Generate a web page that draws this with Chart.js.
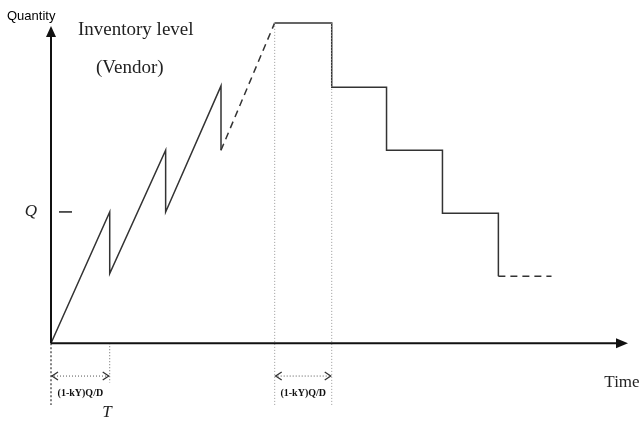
<!DOCTYPE html>
<html>
<head>
<meta charset="utf-8">
<script src="https://cdn.jsdelivr.net/npm/chart.js@4"></script>
<style>
  body { margin: 0; background: #fff; }
  canvas { display: block; }
</style>
</head>
<body>
<canvas id="inventoryChart" width="644" height="426"></canvas>
<script>
// time in cycles, quantity in units of Q
const sawX = [0, 1.05, 1.05, 2.05, 2.05, 3.04, 3.04];
const sawY = [0, 1.0, 0.53, 1.47, 1.0, 1.96, 1.47];
const rampX = [3.04, 4.0];
const rampY = [1.47, 2.44];
const stepX = [4.0, 5.02, 5.02, 6.0, 6.0, 7.0, 7.0, 8.0, 8.0];
const stepY = [2.44, 2.44, 1.95, 1.95, 1.47, 1.47, 0.99, 0.99, 0.51];
const tailX = [8.0, 8.95];
const tailY = [0.51, 0.51];
const qLevel = 1.0;
const spans = [[0, 1.05], [4.0, 5.02]];
const spanLabel = '(1-kY)Q/D';

const pts = (xs, ys) => xs.map((x, i) => ({ x: x, y: ys[i] }));

function lineSet(data, color, width, dash) {
    return {
        data: data,
        showLine: true,
        borderColor: color,
        borderWidth: width,
        borderDash: dash || [],
        pointRadius: 0,
        tension: 0,
        clip: false
    };
}

// Arrows and labels drawn on top of the scales
const decorations = {
    id: 'decorations',
    afterDatasetsDraw(chart) {
        const c = chart.ctx;
        const xs = chart.scales.x, ys = chart.scales.y;
        const x0 = xs.getPixelForValue(0), y0 = ys.getPixelForValue(0);
        c.save();
        // axes
        c.strokeStyle = '#111';
        c.fillStyle = '#111';
        c.lineWidth = 2;
        c.beginPath();
        c.moveTo(x0, y0); c.lineTo(x0, 34);
        c.moveTo(x0, y0); c.lineTo(617, y0);
        c.stroke();
        c.beginPath();
        c.moveTo(x0, 26); c.lineTo(x0 - 5, 37); c.lineTo(x0 + 5, 37); c.closePath();
        c.fill();
        c.beginPath();
        c.moveTo(628, y0); c.lineTo(616, y0 - 5); c.lineTo(616, y0 + 5); c.closePath();
        c.fill();

        // span arrowheads and labels
        const ay = ys.getPixelForValue(-0.25);
        c.lineWidth = 1.3;
        c.strokeStyle = '#333';
        spans.forEach(s => {
            const a = xs.getPixelForValue(s[0]) + 1, b = xs.getPixelForValue(s[1]) - 1;
            c.beginPath();
            c.moveTo(a + 6, ay - 4); c.lineTo(a, ay); c.lineTo(a + 6, ay + 4);
            c.moveTo(b - 6, ay - 4); c.lineTo(b, ay); c.lineTo(b - 6, ay + 4);
            c.stroke();
            c.font = 'bold 10px "Liberation Serif"';
            c.textAlign = 'center';
            c.textBaseline = 'middle';
            c.fillStyle = '#111';
            c.fillText(spanLabel, (a + b) / 2, ys.getPixelForValue(-0.38));
        });

        // Q tick
        const qy = ys.getPixelForValue(qLevel);
        c.strokeStyle = '#222';
        c.lineWidth = 1.5;
        c.beginPath();
        c.moveTo(59, qy); c.lineTo(72, qy);
        c.stroke();

        c.fillStyle = '#222';
        c.textAlign = 'center';
        c.textBaseline = 'middle';
        c.font = 'italic 17px "Liberation Serif"';
        c.fillText('Q', 31, qy);
        c.fillText('T', xs.getPixelForValue(1.0), 413);
        c.font = '17px "Liberation Serif"';
        c.fillText('Time', 622, 383);
        c.textAlign = 'left';
        c.font = '19px "Liberation Serif"';
        c.fillText('Inventory level', 78, 30);
        c.fillText('(Vendor)', 96, 68);
        c.fillStyle = '#000';
        c.font = '13px "Liberation Sans"';
        c.fillText('Quantity', 7, 16);
        c.restore();
    }
};

const ctx = document.getElementById('inventoryChart').getContext('2d');
const inventoryChart = new Chart(ctx, {
    type: 'scatter',
    data: {
        datasets: [
            lineSet(pts([0, 0], [0, -0.47]), '#333', 1.2, [2, 2]),
            lineSet(pts([1.05, 1.05], [0, -0.3]), '#666', 1, [1, 2]),
            lineSet(pts([4.0, 4.0], [2.44, -0.47]), '#999', 1, [1, 2]),
            lineSet(pts([5.02, 5.02], [2.44, -0.47]), '#999', 1, [1, 2]),
            lineSet(pts(spans[0], [-0.25, -0.25]), '#555', 1, [1, 2]),
            lineSet(pts(spans[1], [-0.25, -0.25]), '#555', 1, [1, 2]),
            lineSet(pts(sawX, sawY), '#333', 1.5),
            lineSet(pts(rampX, rampY), '#333', 1.5, [7, 5]),
            lineSet(pts(stepX, stepY), '#333', 1.5),
            lineSet(pts(tailX, tailY), '#333', 1.5, [7, 5])
        ]
    },
    options: {
        responsive: false,
        animation: false,
        layout: { padding: { left: 51, right: 17, top: 15, bottom: 4 } },
        scales: {
            x: { type: 'linear', display: false, min: 0, max: 10.3 },
            y: { type: 'linear', display: false, min: -0.6, max: 2.5 }
        },
        plugins: {
            legend: { display: false },
            tooltip: { enabled: false }
        }
    },
    plugins: [decorations]
});
</script>
</body>
</html>
